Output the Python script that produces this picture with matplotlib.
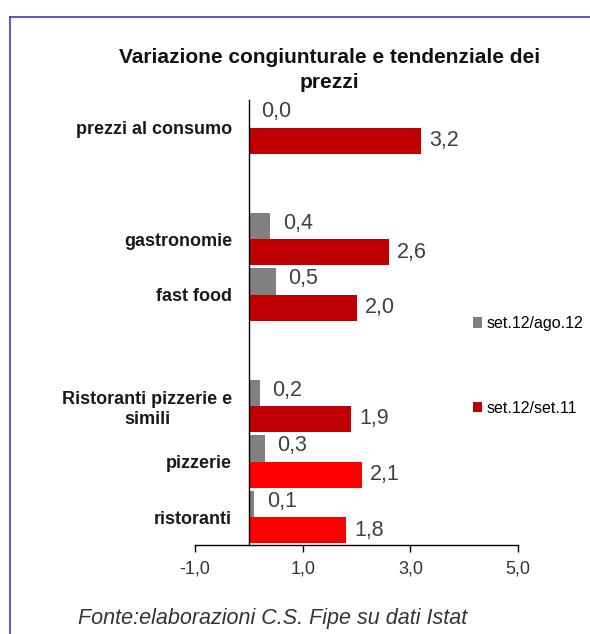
import numpy as np
import matplotlib.pyplot as plt
from matplotlib.lines import Line2D

plt.rcParams['font.family'] = ['Liberation Sans', 'DejaVu Sans']

# categories (blank entries are the empty slots between groups)
categories = ['prezzi al consumo', '', 'gastronomie', 'fast food', '',
              'Ristoranti pizzerie e\nsimili', 'pizzerie', 'ristoranti']
var_cong = [0.0, np.nan, 0.4, 0.5, np.nan, 0.2, 0.3, 0.1]   # set.12/ago.12
var_tend = [3.2, np.nan, 2.6, 2.0, np.nan, 1.9, 2.1, 1.8]   # set.12/set.11
series_names = ['set.12/ago.12', 'set.12/set.11']
xticks = [-1, 1, 3, 5]

gray = '#808080'
dark_red = '#C00000'
red = '#FF0000'
tend_colors = [dark_red] * 6 + [red] * 2

fig = plt.figure(figsize=(5.9, 6.34), dpi=100)
ax = fig.add_axes([0.3305, 0.1404, 0.5475, 0.702])

# category axis sits on zero
ax.spines['left'].set_position(('data', 0))
ax.spines['top'].set_visible(False)
ax.spines['right'].set_visible(False)
ax.spines['left'].set_linewidth(1)
ax.spines['bottom'].set_linewidth(1)

y = np.arange(len(categories))
h = 0.47
b1 = ax.barh(y - h / 2, var_cong, height=h, color=gray, label=series_names[0])
b2 = ax.barh(y + h / 2, var_tend, height=h, color=tend_colors, label=series_names[1])

for i in range(len(categories)):
    if np.isnan(var_cong[i]):
        continue
    ax.annotate(f'{var_cong[i]:.1f}'.replace('.', ','), (var_cong[i], y[i] - h / 2 - 0.05),
                xytext=(9, 0), textcoords='offset points', va='center', ha='left',
                fontsize=15.5, color='#404040')
    ax.annotate(f'{var_tend[i]:.1f}'.replace('.', ','), (var_tend[i], y[i] + h / 2),
                xytext=(6, 0), textcoords='offset points', va='center', ha='left',
                fontsize=15.5, color='#404040')

ax.set_xlim(-1, 5)
ax.set_ylim(len(categories) - 0.5, -0.5)
ax.set_xticks(xticks)
ax.set_xticklabels([f'{t:.1f}'.replace('.', ',') for t in xticks], fontsize=13, color='#333333')
ax.tick_params(axis='x', direction='out', length=5, width=1, pad=6)

ax.set_yticks(y)
ax.set_yticklabels(categories, fontsize=13, fontweight='bold', color='#1a1a1a',
                   multialignment='center', linespacing=1.25)
ax.tick_params(axis='y', length=0, pad=12)

fig.text(0.559, 0.89, 'Variazione congiunturale e tendenziale dei\nprezzi',
         ha='center', va='center', fontsize=15, fontweight='bold',
         linespacing=1.4, color='#111111')

fig.legend(handles=[b1, b2], loc='upper left', bbox_to_anchor=(0.788, 0.514),
           frameon=False, fontsize=11.5, borderpad=0, labelspacing=4.35,
           handlelength=0.6, handleheight=0.6, handletextpad=0.25)

fig.text(0.132, 0.024, 'Fonte:elaborazioni C.S. Fipe su dati Istat',
         ha='left', va='center', fontsize=15.5, style='italic', color='#333333')

# blue frame around the chart area (top and left edges visible)
border = '#3c3cb4'
fig.add_artist(Line2D([10 / 590, 1], [1 - 17 / 634] * 2, color=border, lw=1.2,
                      transform=fig.transFigure))
fig.add_artist(Line2D([10 / 590] * 2, [0, 1 - 17 / 634], color=border, lw=1.2,
                      transform=fig.transFigure))

fig.savefig('out.png', dpi=100)
